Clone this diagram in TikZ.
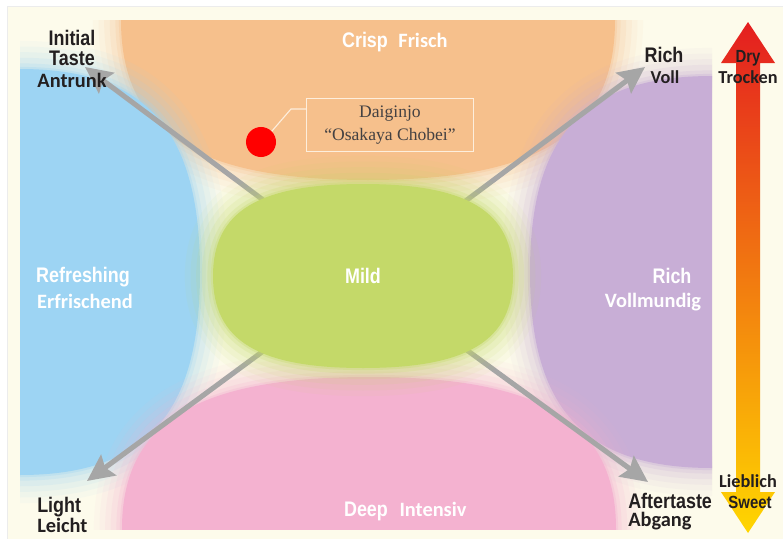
\documentclass[tikz,border=0pt]{standalone}
\usepackage{fontspec}
\setmainfont{Liberation Serif}
\newfontfamily\condfont[FakeStretch=0.85]{Liberation Sans}
\newfontfamily\calfont{Carlito}
\usetikzlibrary{arrows.meta,positioning}

\definecolor{cream}{RGB}{253,251,235}
\definecolor{crispcol}{RGB}{246,192,140}
\definecolor{freshcol}{RGB}{157,212,243}
\definecolor{richcol}{RGB}{200,174,214}
\definecolor{deepcol}{RGB}{244,178,208}
\definecolor{mildcol}{RGB}{196,217,105}
\definecolor{axisgray}{RGB}{166,166,166}
\definecolor{ink}{RGB}{35,31,32}
\definecolor{dryred}{RGB}{228,30,32}
\definecolor{midorange}{RGB}{242,142,0}
\definecolor{sweetyellow}{RGB}{255,214,0}
\definecolor{tagline}{RGB}{253,238,220}

\newcommand{\labfont}{\condfont\bfseries\fontsize{15}{15}\selectfont}
\newcommand{\scalelab}{\condfont\bfseries\fontsize{12.5}{13}\selectfont}
\newcommand{\defont}{\calfont\bfseries\fontsize{14.5}{15}\selectfont}
\newcommand{\desmall}{\calfont\bfseries\fontsize{13}{14}\selectfont}

% squarish oval: tension, centre x, centre y, x radius, y radius
\newcommand{\squircle}[5]{%
  ({#2+#4},#3) .. controls ({#2+#4},{#3+#1*#5}) and ({#2+#1*#4},{#3+#5}) .. (#2,{#3+#5})
  .. controls ({#2-#1*#4},{#3+#5}) and ({#2-#4},{#3+#1*#5}) .. ({#2-#4},#3)
  .. controls ({#2-#4},{#3-#1*#5}) and ({#2-#1*#4},{#3-#5}) .. (#2,{#3-#5})
  .. controls ({#2+#1*#4},{#3-#5}) and ({#2+#4},{#3-#1*#5}) .. ({#2+#4},#3) -- cycle}

% filled oval with a soft, faded rim
\newcommand{\softblob}[6]{%
  \foreach \w/\o in {40/0.06,32/0.08,24/0.1,16/0.14,8/0.2,3/0.3}
    {\draw[#1, line width=\w pt, opacity=\o] \squircle{#2}{#3}{#4}{#5}{#6};}
  \fill[#1] \squircle{#2}{#3}{#4}{#5}{#6};}

\begin{document}
\begin{tikzpicture}[x=0.025cm, y=-0.025cm,
  lab/.style={font=\labfont, text=ink, inner sep=0pt, anchor=base},
  de/.style={font=\defont, text=ink, inner sep=0pt, anchor=base},
  desm/.style={font=\desmall, text=ink, inner sep=0pt, anchor=base},
  axis/.style={draw=axisgray, line width=3.6pt, -{Stealth[length=19pt, width=18pt, inset=3pt]}},
  tagbox/.style={draw=tagline, line width=0.8pt, minimum width=4.175cm, minimum height=1.325cm,
    align=center, text=ink!85, font=\fontsize{12.5}{16}\selectfont},
  leader/.style={draw=tagline, line width=0.8pt}]
\useasboundingbox (0,0) rectangle (783,539);
\fill[white] (0,0) rectangle (783,539);
\fill[cream, draw=gray!15] (7,6) rectangle (790,545);

\coordinate (hub) at (365,276);
\coordinate (nw) at (85,67);
\coordinate (ne) at (645,67);
\coordinate (sw) at (87,481);
\coordinate (se) at (648,482);

\begin{scope}
  \clip (20,20) rectangle (712,529);
  \softblob{crispcol}{0.7}{368}{20}{247}{160}
  \softblob{freshcol}{0.7}{20}{272}{180}{203}
  \softblob{richcol}{0.7}{712}{272}{182}{196}
  \softblob{deepcol}{0.7}{369}{529}{247}{152}
  % taste axes
  \draw[axis] (hub) -- (nw);
  \draw[axis] (hub) -- (ne);
  \draw[axis] (hub) -- (sw);
  \draw[axis] (hub) -- (se);
  \softblob{mildcol}{0.7}{363}{276}{150}{92}
\end{scope}

% dry / sweet scale
\shade[top color=dryred, middle color=midorange, bottom color=sweetyellow]
  (748,22) -- (775,63) -- (760,63) -- (760,492) -- (775,492) -- (748,533)
  -- (721,492) -- (736,492) -- (736,63) -- (721,63) -- cycle;

\node[lab] (initial) at (72,45) {Initial};
\node[lab] (taste) at (72,65) {Taste};
\node[de] (antrunk) at (72,87) {Antrunk};
\node[lab] (richtop) at (664,62) {Rich};
\node[desm] (voll) at (665,83) {Voll};
\node[lab, font=\scalelab] (dry) at (748,62) {Dry};
\node[desm] (trocken) at (748,83) {Trocken};

\node[lab, text=white] (crisp) at (365,48) {Crisp};
\node[de, text=white] (frisch) at (423,48) {Frisch};
\node[lab, text=white] (refreshing) at (83,282) {Refreshing};
\node[de, text=white] (erfrischend) at (85,308) {Erfrischend};
\node[lab, text=white] (mild) at (363,283) {Mild};
\node[lab, text=white] (rich) at (672,283) {Rich};
\node[de, text=white] (vollmundig) at (653,307) {Vollmundig};
\node[lab, text=white] (deep) at (366,516) {Deep};
\node[de, text=white] (intensiv) at (433,516) {Intensiv};

\node[lab, anchor=base west] (light) at (37,512) {Light};
\node[de, anchor=base west] (leicht) at (37,532) {Leicht};
\node[lab, anchor=base west] (aftertaste) at (628,508) {Aftertaste};
\node[de, anchor=base west] (abgang) at (628,526) {Abgang};
\node[desm] (lieblich) at (748,487) {Lieblich};
\node[lab, font=\scalelab] (sweet) at (750,508) {Sweet};

% sample marker
\node[circle, fill=red, inner sep=0pt, minimum size=0.75cm] (dot) at (261,142) {};
\node[tagbox] (tag) at (390,125) {Daiginjo\\``Osakaya Chobei''};
\coordinate (knee) at (291,109);
\draw[leader] (dot.45) -- (knee) -- (knee -| tag.west);
\end{tikzpicture}
\end{document}
